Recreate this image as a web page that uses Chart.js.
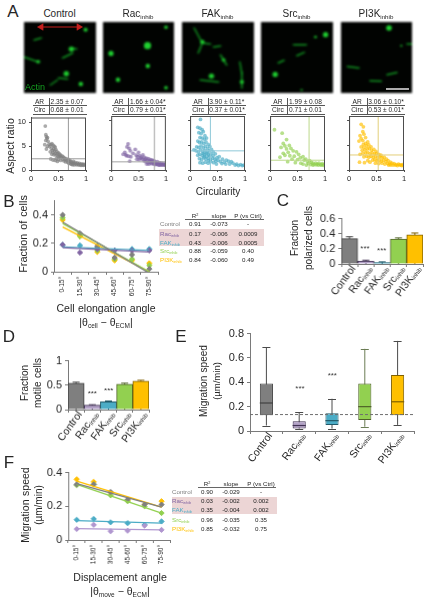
<!DOCTYPE html>
<html>
<head>
<meta charset="utf-8">
<title>Figure</title>
<script src="https://cdn.jsdelivr.net/npm/chart.js@4/dist/chart.umd.min.js"></script>
<style>
  html, body { margin: 0; padding: 0; background: #fff; }
  #page { position: relative; width: 426px; height: 599px; overflow: hidden; font-family: "Liberation Sans", Arial, sans-serif; color: #262626; }
  #page canvas { position: absolute; }
  .t { position: absolute; white-space: nowrap; line-height: 1; }
  .t sub { font-size: 62%; vertical-align: baseline; position: relative; top: .28em; line-height: 0; }
  .t sup { font-size: 62%; vertical-align: baseline; position: relative; top: -.4em; line-height: 0; }
  .rule { position: absolute; background: #555; }
</style>
</head>
<body>
<div id="page"></div>
<script>
// ---- data ----
const groups = ['Control', 'Rac', 'FAK', 'Src', 'PI3K'];
const groupFill = ['#7f7f7f', '#b3a2c7', '#4bacc6', '#92d050', '#ffc000'];
const groupEdge = ['#404040', '#403152', '#215968', '#4f6228', '#7f6000'];
const groupDot = ['#7f7f7f', '#8064a2', '#4bacc6', '#92d050', '#ffc000'];
const moveDot = ['#7f7f7f', '#b096cf', '#4bacc6', '#92d050', '#ffc000'];
const groupCross = ['#9a9a9a', '#a3a3a3', '#8fc9d8', '#bcd88a', '#e3cf7a'];

const arText = ['2.35 ± 0.07', '1.66 ± 0.04*', '3.90 ± 0.11*', '1.99 ± 0.08', '3.06 ± 0.10*'];
const circText = ['0.68 ± 0.01', '0.79 ± 0.01*', '0.37 ± 0.01*', '0.71 ± 0.01', '0.53 ± 0.01*'];
const arMeans = [2.35, 1.66, 3.90, 1.99, 3.06];
const circMeans = [0.68, 0.79, 0.37, 0.71, 0.53];

const controlPoints = [[.26,9.2],[.27,7.4],[.28,7.0],[.29,6.6],[.27,6.2],[.30,6.8],[.31,6.0],[.25,5.3],[.30,5.0],[.33,5.4],[.28,4.4],[.34,4.9],[.36,5.3],[.38,5.5],[.40,5.2],[.42,5.0],[.44,4.8],[.37,4.5],[.39,4.1],[.41,4.4],[.43,4.0],[.45,4.3],[.47,3.9],[.35,3.8],[.38,3.3],[.40,3.6],[.42,3.2],[.44,3.5],[.46,3.1],[.48,3.4],[.50,3.6],[.52,3.3],[.54,3.1],[.49,2.9],[.51,2.7],[.53,2.9],[.55,2.6],[.57,2.9],[.59,2.7],[.61,2.5],[.36,2.3],[.40,2.1],[.44,2.0],[.48,1.8],[.46,2.4],[.50,2.2],[.54,2.0],[.58,2.2],[.60,1.9],[.62,2.2],[.64,2.4],[.66,2.0],[.68,2.2],[.70,1.8],[.63,1.7],[.67,1.6],[.71,2.0],[.73,1.7],[.75,1.5],[.77,1.8],[.69,1.4],[.72,1.3],[.74,1.2],[.78,1.4],[.80,1.6],[.82,1.3],[.84,1.5],[.86,1.2],[.88,1.4],[.90,1.1],[.92,1.3],[.94,1.1],[.96,1.2],[.98,1.05],[.83,1.1],[.87,1.05],[.91,1.0],[.95,1.0],[.79,1.1],[.76,1.1]];
const racPoints = [[.22,3.2],[.25,3.6],[.27,3.1],[.29,4.7],[.31,5.3],[.33,4.4],[.35,3.9],[.28,2.9],[.32,2.8],[.36,2.7],[.34,1.8],[.40,3.4],[.44,4.2],[.46,3.0],[.48,2.7],[.50,3.6],[.52,2.9],[.55,2.6],[.58,3.1],[.47,2.2],[.51,2.1],[.54,2.4],[.57,2.2],[.60,2.6],[.62,2.2],[.64,2.4],[.66,2.0],[.68,2.3],[.70,1.9],[.72,2.1],[.60,1.9],[.63,1.7],[.67,1.5],[.71,1.6],[.74,1.8],[.76,1.5],[.78,1.9],[.80,1.6],[.82,1.4],[.84,1.7],[.86,1.3],[.88,1.5],[.90,1.2],[.92,1.4],[.94,1.1],[.96,1.3],[.98,1.05],[.65,1.2],[.69,1.2],[.73,1.3],[.77,1.2],[.81,1.1],[.85,1.1],[.89,1.0],[.93,1.0],[.97,1.0],[.75,2.0],[.79,1.3],[.83,1.2],[.87,1.0],[.91,1.1],[.99,1.1]];
const fakPoints = [[.19,10.3],[.14,8.7],[.18,8.5],[.22,8.2],[.16,7.6],[.20,7.4],[.24,7.8],[.27,7.0],[.18,6.6],[.22,6.5],[.26,6.3],[.30,6.5],[.14,5.9],[.17,5.6],[.21,5.7],[.25,5.4],[.29,5.7],[.33,5.2],[.12,4.7],[.16,4.6],[.20,4.9],[.24,4.5],[.28,4.8],[.32,4.4],[.36,4.8],[.07,4.1],[.11,3.9],[.15,3.7],[.19,4.1],[.23,3.7],[.27,4.0],[.31,3.6],[.35,3.9],[.39,4.2],[.42,3.7],[.14,3.0],[.18,3.2],[.22,2.9],[.26,3.2],[.30,2.8],[.34,3.1],[.38,3.3],[.42,2.9],[.46,3.3],[.17,2.3],[.21,2.1],[.25,2.5],[.29,2.2],[.33,2.4],[.37,2.1],[.41,2.4],[.45,2.2],[.49,2.5],[.53,2.7],[.18,1.5],[.23,1.4],[.28,1.6],[.33,1.4],[.38,1.7],[.43,1.5],[.47,1.8],[.51,2.0],[.55,1.7],[.59,2.2],[.58,1.3],[.62,1.6],[.66,2.0],[.70,1.8],[.65,1.2],[.72,1.2],[.75,1.7],[.78,1.4],[.82,1.0],[.85,1.2],[.88,0.9],[.92,1.1],[.95,0.9],[.98,1.0],[.48,1.2],[.36,2.9],[.24,3.4],[.30,3.4],[.26,2.7],[.34,1.9]];
const srcPoints = [[.08,8.2],[.22,7.5],[.30,6.2],[.24,5.4],[.27,4.9],[.35,5.0],[.20,4.6],[.30,4.3],[.38,4.4],[.42,3.9],[.24,3.4],[.33,3.6],[.48,3.7],[.52,3.2],[.27,3.0],[.36,2.9],[.44,2.8],[.18,2.6],[.55,2.5],[.60,2.7],[.40,2.2],[.50,2.1],[.62,2.0],[.65,2.2],[.32,1.7],[.46,1.5],[.56,1.4],[.68,1.7],[.72,1.9],[.75,1.6],[.78,1.4],[.60,1.2],[.70,1.3],[.80,1.1],[.83,1.4],[.86,1.2],[.89,1.4],[.92,1.1],[.95,1.3],[.98,1.1],[.74,1.1],[.84,1.05],[.88,1.0],[.93,1.0],[.97,.95],[.66,1.0],[.78,1.0]];
const pi3kPoints = [[.22,9.3],[.26,8.8],[.25,7.8],[.20,7.0],[.27,7.3],[.22,6.4],[.18,5.9],[.25,6.0],[.30,6.6],[.26,5.2],[.30,5.4],[.34,5.7],[.22,4.7],[.27,4.6],[.32,4.9],[.36,5.1],[.40,4.7],[.24,4.0],[.29,4.1],[.33,4.3],[.37,4.4],[.41,4.0],[.45,4.2],[.49,3.8],[.20,3.2],[.25,3.4],[.30,3.5],[.34,3.6],[.38,3.3],[.42,3.5],[.46,3.3],[.50,3.4],[.54,3.2],[.58,3.0],[.27,2.7],[.32,2.8],[.36,2.6],[.40,2.8],[.44,2.6],[.48,2.8],[.52,2.5],[.56,2.7],[.60,2.5],[.64,2.6],[.68,2.2],[.19,1.6],[.28,1.5],[.34,1.9],[.38,1.6],[.43,2.0],[.47,2.1],[.51,1.9],[.55,2.0],[.59,1.8],[.63,2.0],[.67,1.7],[.71,1.9],[.75,1.6],[.48,1.4],[.54,1.3],[.60,1.4],[.65,1.2],[.70,1.3],[.74,1.2],[.78,1.4],[.82,1.3],[.86,1.1],[.90,1.2],[.94,1.0],[.97,1.1],[.80,1.0],[.84,1.0],[.88,.9],[.92,1.05],[.96,.9],[.99,1.0],[.76,1.0],[.72,1.0]];
const scatterSets = [controlPoints, racPoints, fakPoints, srcPoints, pi3kPoints];

// micrograph cells, in pixels of the 71 px image: [x, y, radius] and [x1, y1, x2, y2]
const microBlobs = [
  [[60.7,7.7,2],[46.7,27,2.6],[14,39.7,1.8],[41.7,51.7,2.6],[56,62,2.2]],
  [[44.5,23.7,3.6],[8,31.4,2.6],[63,5.3,1.8],[44.8,44,2.2],[15,57.7,2.2],[63,65.7,1.8]],
  [[29,54,2.6],[20,20,2.2],[41,38,1.8],[59,60,2]],
  [[63.7,12.7,2.6],[14,52.4,2.6],[53.7,15,1.3],[40,68,1]],
  [[48,6,2.8],[60.3,23.7,1]]
];
const microStreaks = [
  [[10,18,17,16],[38,36,48,31],[46,26,52,27],[0,35,14,40],[26,63,33,58],[34,56,43,57]],
  [],
  [[12,6,20,21],[20,21,16,31],[20,21,28,22],[18,58,36,60],[38,33,44,43],[59,50,59,66],[31,25,38,24],[57,40,59,52]],
  [[32,22.7,44.7,22.7],[35.3,33.7,42.7,30.4],[17,41,22.7,38.3]],
  [[66,22,71,22],[6.3,44.4,18,46],[29,58.7,40.3,59.3],[46,52.7,56,50.4]]
];

const angleBins = ['0-15°', '15-30°', '30-45°', '45-60°', '60-75°', '75-90°'];

const elongControl = [0.40, 0.27, 0.18, 0.10, 0.12, 0.02];
const elongRac = [0.19, 0.135, 0.16, 0.15, 0.15, 0.15];
const elongFak = [0.19, 0.185, 0.17, 0.15, 0.16, 0.16];
const elongSrc = [0.38, 0.25, 0.15, 0.09, 0.09, 0.045];
const elongPi3k = [0.365, 0.25, 0.14, 0.08, 0.08, 0.06];
const elongFitControl = [0.35, null, null, null, null, -0.01];
const elongFitRac = [0.17, null, null, null, null, 0.14];
const elongFitFak = [0.175, null, null, null, null, 0.15];
const elongFitSrc = [0.34, null, null, null, null, 0.0];
const elongFitPi3k = [0.315, null, null, null, null, 0.0];

const moveControl = [0.33, 0.33, 0.285, 0.24, 0.21, 0.21];
const moveRac = [0.065, 0.09, 0.052, 0.055, 0.085, 0.06];
const moveFak = [0.12, 0.125, 0.105, 0.10, 0.09, 0.11];
const moveSrc = [0.325, 0.33, 0.265, 0.23, 0.20, 0.16];
const movePi3k = [0.36, 0.345, 0.28, 0.235, 0.21, 0.23];
const moveFitControl = [0.335, null, null, null, null, 0.195];
const moveFitRac = [0.068, null, null, null, null, 0.06];
const moveFitFak = [0.115, null, null, null, null, 0.10];
const moveFitSrc = [0.33, null, null, null, null, 0.16];
const moveFitPi3k = [0.35, null, null, null, null, 0.195];

const polarized = [0.335, 0.04, 0.02, 0.33, 0.385];
const polarizedTop = [0.36, 0.05, 0.028, 0.345, 0.41];
const motile = [0.54, 0.09, 0.16, 0.52, 0.58];
const motileTop = [0.56, 0.10, 0.175, 0.54, 0.60];

const speedMin = [0.045, 0.02, 0.02, 0.035, 0.05];
const speedQ1 = [0.13, 0.02, 0.05, 0.09, 0.13];
const speedMedian = [0.23, 0.045, 0.085, 0.20, 0.24];
const speedQ3 = [0.39, 0.08, 0.145, 0.39, 0.46];
const speedMax = [0.69, 0.155, 0.265, 0.675, 0.74];
const speedLevel = 0.135;

const elongRows = [['0.91', '-0.073', '-'], ['0.17', '-0.006', '0.0009'], ['0.43', '-0.006', '0.0005'], ['0.88', '-0.059', '0.40'], ['0.84', '-0.060', '0.49']];
const moveRows = [['0.90', '-0.029', '-'], ['0.03', '-0.002', '0.002'], ['0.35', '-0.004', '0.002'], ['0.96', '-0.035', '0.35'], ['0.85', '-0.032', '0.75']];

// ---- helpers ----
const page = document.getElementById('page');
const AXIS = '#7a7a7a';
const INK = '#262626';
Chart.defaults.font.family = '"Liberation Sans", Arial, sans-serif';
Chart.defaults.color = INK;

function text(x, y, html, size, opts) {
  opts = opts || {};
  const d = document.createElement('div');
  d.className = 't';
  d.innerHTML = html;
  d.style.left = x + 'px';
  d.style.top = y + 'px';
  d.style.fontSize = size + 'px';
  if (opts.color) d.style.color = opts.color;
  if (opts.weight) d.style.fontWeight = opts.weight;
  if (opts.spacing) d.style.wordSpacing = opts.spacing + 'px';
  const ax = opts.align === 'left' ? '0' : '-50%';
  d.style.transform = 'translate(' + ax + ',-50%)' + (opts.rotate ? ' rotate(' + opts.rotate + 'deg)' : '');
  page.appendChild(d);
  return d;
}

function rule(x, y, w, h, color) {
  const d = document.createElement('div');
  d.className = 'rule';
  d.style.cssText = 'left:' + x + 'px;top:' + y + 'px;width:' + w + 'px;height:' + h + 'px;' + (color ? 'background:' + color : '');
  page.appendChild(d);
  return d;
}

// puts a chart on the page so its plot area lands on the given box
function makeChart(box, m, config) {
  const c = document.createElement('canvas');
  const w = box.x1 - box.x0 + m.l + m.r;
  const h = box.y1 - box.y0 + m.t + m.b;
  c.width = w;
  c.height = h;
  c.style.left = (box.x0 - m.l) + 'px';
  c.style.top = (box.y0 - m.t) + 'px';
  c.style.width = w + 'px';
  c.style.height = h + 'px';
  page.appendChild(c);
  config.options = config.options || {};
  config.options.responsive = false;
  config.options.animation = false;
  config.options.layout = { autoPadding: false, padding: { top: m.t, right: m.r, left: 0, bottom: 0 } };
  config.options.plugins = Object.assign({ legend: { display: false }, tooltip: { enabled: false } }, config.options.plugins || {});
  const sx = config.options.scales.x;
  const sy = config.options.scales.y;
  sx.afterFit = s => { s.height = m.b; };
  sy.afterFit = s => { s.width = m.l; };
  new Chart(c, config);
  return c;
}

function valueAxis(min, max, ticks, fontSize, showLabels) {
  return {
    min: min, max: max,
    afterBuildTicks: s => { s.ticks = ticks.map(v => ({ value: v })); },
    grid: { drawOnChartArea: false, color: AXIS, tickLength: 3 },
    border: { color: AXIS },
    ticks: { display: showLabels !== false, autoSkip: false, font: { size: fontSize }, padding: 3, color: INK, callback: v => String(v) }
  };
}

// category labels with an "inhib" subscript, turned like the figure
const slantLabels = {
  id: 'slantLabels',
  afterDraw(chart) {
    const x = chart.scales.x, ctx = chart.ctx, base = x.top + 3;
    groups.forEach((g, i) => {
      ctx.save();
      ctx.translate(x.getPixelForValue(i) + 4, base);
      ctx.rotate(-54 * Math.PI / 180);
      ctx.textAlign = 'right';
      ctx.textBaseline = 'middle';
      ctx.fillStyle = INK;
      let off = 0;
      if (i > 0) {
        ctx.font = '6px "Liberation Sans", Arial, sans-serif';
        ctx.fillText('inhib', 0, 2.5);
        off = ctx.measureText('inhib').width;
      }
      ctx.font = '10.5px "Liberation Sans", Arial, sans-serif';
      ctx.fillText(g, -off, 0);
      ctx.restore();
    });
  }
};

const errorCaps = {
  id: 'errorCaps',
  beforeDatasetsDraw(chart, args, opts) {
    const ctx = chart.ctx, x = chart.scales.x, y = chart.scales.y;
    ctx.save();
    opts.tops.forEach((top, i) => {
      const px = x.getPixelForValue(i), py = y.getPixelForValue(top);
      ctx.strokeStyle = groupEdge[i];
      ctx.lineWidth = 1;
      ctx.beginPath();
      ctx.moveTo(px, y.getPixelForValue(0));
      ctx.lineTo(px, py);
      ctx.moveTo(px - 3.5, py);
      ctx.lineTo(px + 3.5, py);
      ctx.stroke();
    });
    ctx.restore();
  }
};

const frame = {
  id: 'frame',
  afterDraw(chart) {
    const a = chart.chartArea, ctx = chart.ctx;
    ctx.save();
    ctx.strokeStyle = '#4d4d4d';
    ctx.lineWidth = 1;
    ctx.strokeRect(a.left + .5, a.top + .5, a.right - a.left - 1, a.bottom - a.top);
    ctx.restore();
  }
};

function boxBars(box, margins, values, tops, ticks, max) {
  makeChart(box, margins, {
    type: 'bar',
    data: {
      labels: groups,
      datasets: [{ data: values, backgroundColor: groupFill, borderColor: groupEdge, borderWidth: 1, barPercentage: 1, categoryPercentage: 1 }]
    },
    options: {
      plugins: { errorCaps: { tops: tops } },
      scales: {
        x: { grid: { drawOnChartArea: false, color: AXIS, tickLength: 3 }, border: { color: AXIS }, ticks: { display: false } },
        y: valueAxis(0, max, ticks, 11)
      }
    },
    plugins: [errorCaps, slantLabels]
  });
}

function trendChart(box, margins, series, fits, max, ticks, colors) {
  const dots = series.map((s, i) => ({
    type: 'line', data: s, showLine: false, pointStyle: 'rectRot', pointRadius: 2.6,
    pointBackgroundColor: colors[i], pointBorderColor: colors[i], order: 2
  }));
  const lines = fits.map((s, i) => ({
    type: 'line', data: s, spanGaps: true, pointRadius: 0, borderWidth: 1.3,
    borderColor: colors[i], order: 1
  }));
  makeChart(box, margins, {
    type: 'line',
    data: { labels: angleBins, datasets: dots.concat(lines) },
    options: {
      scales: {
        x: {
          offset: true,
          grid: { offset: true, drawOnChartArea: false, color: AXIS, tickLength: 3 },
          border: { color: AXIS },
          ticks: { font: { size: 6.5 }, minRotation: 90, maxRotation: 90, autoSkip: false, padding: 2, color: INK }
        },
        y: valueAxis(0, max, ticks, 11)
      }
    }
  });
}

function statTable(x0, yHead, yRows, xCols, rows, band, line) {
  rule(band.x0, band.y0, band.x1 - band.x0, band.y1 - band.y0, '#ecd5d5');
  rule(line.x0, line.y, line.x1 - line.x0, 1, '#666');
  text(xCols[0], yHead, 'R<sup>2</sup>', 6.2);
  text(xCols[1], yHead, 'slope', 6.2);
  text(xCols[2], yHead, 'P (vs Ctrl)', 6.2);
  rows.forEach((r, i) => {
    const name = i === 0 ? groups[i] : groups[i] + '<sub>inhib</sub>';
    text(x0, yRows[i], name, 6.2, { align: 'left', color: i === 0 ? '#7f7f7f' : groupDot[i] });
    r.forEach((cell, j) => text(xCols[j], yRows[i], cell, 6.2));
  });
}

// ---- panel A ----
const microLeft = [24, 102.5, 182, 261, 340.5];
const plotLeft = [31.3, 110.7, 190, 269.7, 349];

text(9 + 4, 11, 'A', 17);
groups.forEach((g, i) => {
  const title = i === 0 ? g : g + '<sub>inhib</sub>';
  text(microLeft[i] + 35.5, 14, title, 10);

  const blobs = microBlobs[i].map(b => ({ x: b[0], y: b[1], r: b[2] }));
  const streaks = microStreaks[i].map(s => ({
    type: 'line', data: [{ x: s[0], y: s[1] }, { x: s[2], y: s[3] }],
    borderColor: '#129a22', borderWidth: 1.5, pointRadius: 0, borderCapStyle: 'round'
  }));
  const c = makeChart({ x0: microLeft[i], x1: microLeft[i] + 71.5, y0: 22.3, y1: 93.5 }, { l: 0, r: 0, t: 0, b: 0 }, {
    type: 'scatter',
    data: {
      datasets: [{
        data: blobs, pointRadius: blobs.map(b => b.r), pointBackgroundColor: '#1fd030', pointBorderWidth: 0
      }].concat(streaks)
    },
    options: {
      scales: {
        x: { min: 0, max: 71, display: false },
        y: { min: 0, max: 71, reverse: true, display: false }
      }
    }
  });
  c.style.background = '#010301';
  c.style.filter = 'blur(.8px)';
  // overlays stay sharp, so they get their own transparent chart
  const extras = [];
  if (i === 0) {
    extras.push({
      type: 'line', data: [{ x: 17, y: 5 }, { x: 54, y: 5 }], borderColor: '#c8201f', borderWidth: 1.2,
      pointStyle: 'triangle', pointRadius: 3, pointRotation: [-90, 90], pointBackgroundColor: '#c8201f', pointBorderColor: '#c8201f'
    });
  }
  if (i === 4) {
    extras.push({
      type: 'line', data: [{ x: 45, y: 67 }, { x: 68, y: 67 }], borderColor: '#e6e6e6', borderWidth: 1.5, pointRadius: 0
    });
  }
  if (extras.length) {
    makeChart({ x0: microLeft[i], x1: microLeft[i] + 71.5, y0: 22.3, y1: 93.5 }, { l: 0, r: 0, t: 0, b: 0 }, {
      type: 'scatter',
      data: { datasets: extras },
      options: {
        scales: {
          x: { min: 0, max: 71, display: false },
          y: { min: 0, max: 71, reverse: true, display: false }
        }
      }
    });
  }
});
text(25, 87, 'Actin', 9, { align: 'left', color: '#15a020' });

groups.forEach((g, i) => {
  const px = plotLeft[i];
  const tx = px + 1.7;
  rule(tx, 105.2, 54, 0.8, '#555');
  rule(tx, 113.6, 54, 0.8, '#555');
  rule(tx + 16, 98, 0.8, 16, '#555');
  text(tx + 6.5, 101.5, 'AR', 6.6);
  text(tx + 6.5, 110, 'Circ', 6.6);
  text(tx + 17.6, 101.5, arText[i], 6.6, { align: 'left' });
  text(tx + 17.6, 110, circText[i], 6.6, { align: 'left' });

  const first = i === 0;
  makeChart({ x0: px, x1: px + 55, y0: 115.7, y1: 170.3 }, { l: first ? 22 : 4, r: 8, t: 6, b: 16 }, {
    type: 'scatter',
    data: {
      datasets: [
        { data: [{ x: circMeans[i], y: 0 }, { x: circMeans[i], y: 11 }], showLine: true, borderColor: groupCross[i], borderWidth: 1, pointRadius: 0 },
        { data: [{ x: 0, y: arMeans[i] }, { x: 1, y: arMeans[i] }], showLine: true, borderColor: groupCross[i], borderWidth: 1, pointRadius: 0 },
        { data: scatterSets[i].map(p => ({ x: p[0], y: p[1] })), pointRadius: 1.9, pointBorderWidth: 0, pointBackgroundColor: groupDot[i] + 'a8' }
      ]
    },
    options: {
      scales: {
        x: {
          min: 0, max: 1,
          afterBuildTicks: s => { s.ticks = [0, .5, 1].map(v => ({ value: v })); },
          grid: { drawOnChartArea: false, color: '#4d4d4d', tickLength: 2 },
          border: { color: '#4d4d4d' },
          ticks: { autoSkip: false, font: { size: 7.5 }, padding: 2, color: INK, callback: v => String(v) }
        },
        y: Object.assign(valueAxis(0, 11, [0, 5, 10], 7.5, first), {
          grid: { drawOnChartArea: false, color: '#4d4d4d', tickLength: 2 },
          border: { color: '#4d4d4d' }
        })
      }
    },
    plugins: [frame]
  });
});
text(10, 146, 'Aspect ratio', 10.5, { rotate: -90 });
text(218, 192, 'Circularity', 10);

// ---- panel B ----
text(9, 201, 'B', 17);
trendChart({ x0: 54, x1: 158, y0: 197, y1: 271.7 }, { l: 30, r: 4, t: 6, b: 28 },
  [elongControl, elongRac, elongFak, elongSrc, elongPi3k],
  [elongFitControl, elongFitRac, elongFitFak, elongFitSrc, elongFitPi3k], 0.5, [0, 0.2, 0.4], groupDot);
text(23, 234, 'Fraction of cells', 10.8, { rotate: -90, spacing: 1 });
text(106, 308, 'Cell elongation angle', 10.5, { spacing: .5 });
text(106, 322, '|θ<sub>cell</sub> − θ<sub>ECM</sub>|', 10.5);
statTable(160, 215.6, [224, 233.5, 242.5, 251, 260], [195, 219, 248], elongRows,
  { x0: 159, x1: 264, y0: 229, y1: 246 }, { x0: 185, x1: 264, y: 219.3 });

// ---- panel C ----
text(283, 200, 'C', 17);
boxBars({ x0: 341, x1: 422.7, y0: 214.7, y1: 263.7 }, { l: 42, r: 3, t: 6, b: 44 }, polarized, polarizedTop, [0, 0.2, 0.4, 0.6], 0.6);
text(295, 238, 'Fraction', 10, { rotate: -90 });
text(309, 238, 'polarized cells', 10, { rotate: -90, spacing: .6 });
text(365, 249, '***', 8, { color: '#404040' });
text(381.7, 250.7, '***', 8, { color: '#404040' });

// ---- panel D ----
text(9, 336, 'D', 17);
boxBars({ x0: 67.7, x1: 149.3, y0: 357.3, y1: 410 }, { l: 30, r: 3, t: 6, b: 44 }, motile, motileTop, [0, 0.5, 1], 1);
text(25, 383, 'Fraction', 10, { rotate: -90 });
text(38, 383, 'motile cells', 10, { rotate: -90, spacing: .6 });
text(92.3, 394, '***', 8, { color: '#404040' });
text(108.7, 390.7, '***', 8, { color: '#404040' });

// ---- panel E ----
const boxExtras = {
  id: 'boxExtras',
  beforeDatasetsDraw(chart) {
    const ctx = chart.ctx, x = chart.scales.x, y = chart.scales.y;
    ctx.save();
    ctx.lineWidth = 1;
    groups.forEach((g, i) => {
      const px = x.getPixelForValue(i);
      ctx.strokeStyle = i === 3 ? '#6b7d55' : '#4a4a4a';
      ctx.beginPath();
      [speedMin[i], speedMax[i]].forEach(v => {
        const py = Math.round(y.getPixelForValue(v)) + .5;
        ctx.moveTo(px - 4, py);
        ctx.lineTo(px + 4, py);
      });
      ctx.moveTo(px, y.getPixelForValue(speedMin[i]));
      ctx.lineTo(px, y.getPixelForValue(speedMax[i]));
      ctx.stroke();
    });
    ctx.restore();
  },
  afterDatasetsDraw(chart) {
    const ctx = chart.ctx, x = chart.scales.x, y = chart.scales.y;
    ctx.save();
    groups.forEach((g, i) => {
      const px = x.getPixelForValue(i);
      const py = y.getPixelForValue(speedMedian[i]);
      ctx.strokeStyle = groupEdge[i];
      ctx.lineWidth = 1.2;
      ctx.beginPath();
      ctx.moveTo(px - 6.6, py);
      ctx.lineTo(px + 6.6, py);
      ctx.stroke();
    });
    const py = y.getPixelForValue(speedLevel);
    ctx.strokeStyle = '#6e6e6e';
    ctx.lineWidth = 1;
    ctx.setLineDash([3, 2]);
    ctx.beginPath();
    ctx.moveTo(x.left, py);
    ctx.lineTo(x.right, py);
    ctx.stroke();
    ctx.restore();
  }
};
text(181, 336, 'E', 17);
makeChart({ x0: 250, x1: 414, y0: 330, y1: 431 }, { l: 36, r: 3, t: 6, b: 44 }, {
  type: 'bar',
  data: {
    labels: groups,
    datasets: [{
      data: groups.map((g, i) => [speedQ1[i], speedQ3[i]]),
      backgroundColor: groupFill, borderColor: groupEdge, borderWidth: 1,
      borderSkipped: false, barPercentage: .4, categoryPercentage: 1
    }]
  },
  options: {
    scales: {
      x: { grid: { drawOnChartArea: false, color: AXIS, tickLength: 3 }, border: { color: AXIS }, ticks: { display: false } },
      y: valueAxis(0, 0.8, [0, 0.2, 0.4, 0.6, 0.8], 11)
    }
  },
  plugins: [boxExtras, slantLabels]
});
text(204, 381, 'Migration speed', 10, { rotate: -90, spacing: .6 });
text(217, 381, '(µm/min)', 9.5, { rotate: -90 });
text(300, 389, '***', 8, { color: '#404040' });
text(332.3, 375.7, '***', 8, { color: '#404040' });

// ---- panel F ----
text(9, 462, 'F', 17);
trendChart({ x0: 67.7, x1: 169.6, y0: 469, y1: 540.3 }, { l: 30, r: 4, t: 6, b: 28 },
  [moveControl, moveRac, moveFak, moveSrc, movePi3k],
  [moveFitControl, moveFitRac, moveFitFak, moveFitSrc, moveFitPi3k], 0.4, [0, 0.2, 0.4], moveDot);
text(25, 505, 'Migration speed', 10.5, { rotate: -90, spacing: .6 });
text(39, 505, '(µm/min)', 10, { rotate: -90 });
text(120, 577, 'Displacement angle', 10.6, { spacing: .5 });
text(120, 591, '|θ<sub>move</sub> − θ<sub>ECM</sub>|', 10.5);
statTable(172, 483.7, [492, 501.3, 510, 519.5, 528.7], [207, 231, 261], moveRows,
  { x0: 172, x1: 276.7, y0: 496.7, y1: 514 }, { x0: 198, x1: 276, y: 486.7 });
</script>
</body>
</html>
